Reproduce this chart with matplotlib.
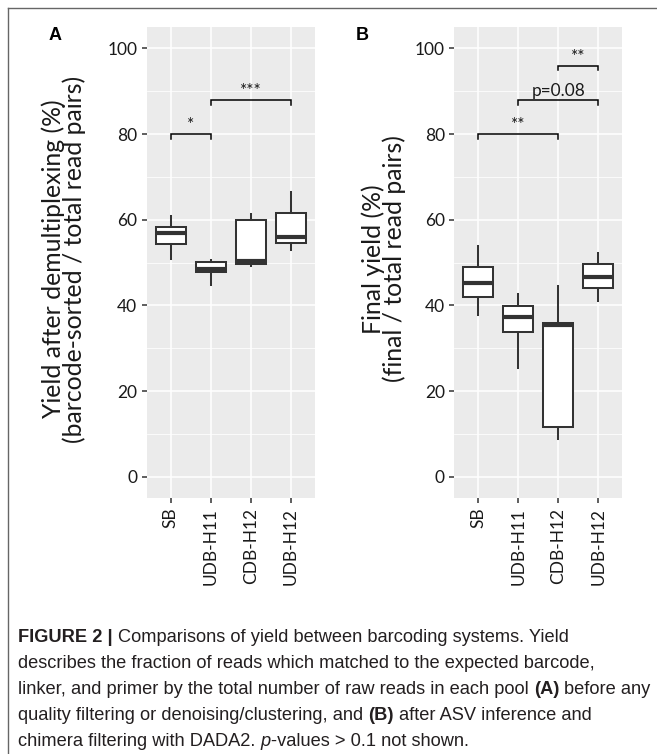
import matplotlib
matplotlib.use('Agg')
import matplotlib.pyplot as plt
from matplotlib.lines import Line2D
from matplotlib.transforms import IdentityTransform

groups = ['SB', 'UDB-H11', 'CDB-H12', 'UDB-H12']

# A: yield after demultiplexing (%)
demux_low = [50.8, 44.8, 49.3, 52.9]
demux_q1 = [54.4, 47.8, 49.7, 54.5]
demux_med = [57.0, 48.6, 50.4, 56.0]
demux_q3 = [58.4, 50.2, 60.0, 61.7]
demux_high = [60.9, 50.6, 61.4, 66.5]

# B: final yield (%)
final_low = [37.8, 25.5, 8.8, 41.1]
final_q1 = [41.9, 33.9, 11.7, 44.1]
final_med = [45.2, 37.2, 35.4, 46.7]
final_q3 = [49.0, 39.9, 35.8, 49.6]
final_high = [53.9, 42.7, 44.6, 52.3]

# significance brackets: (first group, second group, height, label)
demux_sig = [(0, 1, 80, '*'), (1, 3, 88, '***')]
final_sig = [(0, 2, 80, '**'), (1, 3, 88, 'p=0.08'), (2, 3, 96, '**')]

ylabels = [('Yield after demultiplexing (%)', '(barcode-sorted / total read pairs)'),
           ('Final yield (%)', '(final / total read pairs)')]

caption = [
    [('FIGURE 2 |', 'bold', 'normal'), ('Comparisons of yield between barcoding systems. Yield', 'normal', 'normal')],
    [('describes the fraction of reads which matched to the expected barcode,', 'normal', 'normal')],
    [('linker, and primer by the total number of raw reads in each pool', 'normal', 'normal'),
     ('(A)', 'bold', 'normal'), ('before any', 'normal', 'normal')],
    [('quality filtering or denoising/clustering, and', 'normal', 'normal'),
     ('(B)', 'bold', 'normal'), ('after ASV inference and', 'normal', 'normal')],
    [('chimera filtering with DADA2.', 'normal', 'normal'), ('p', 'normal', 'italic'),
     ('-values > 0.1 not shown.', 'normal', 'normal')],
]

W, H = 657, 754
fig = plt.figure(figsize=(W / 100, H / 100), dpi=100)
fig.patch.set_facecolor('white')
px = IdentityTransform()

dark = '#333333'
axfont = 'Lato'


def panel(left, low, q1, med, q3, high, sig):
    ax = fig.add_axes([left / W, 1 - 498.3 / H, 168 / W, 471.3 / H])
    stats = []
    for i in range(len(groups)):
        stats.append(dict(med=med[i], q1=q1[i], q3=q3[i], whislo=low[i], whishi=high[i]))
    ax.bxp(stats, positions=range(1, len(groups) + 1), widths=0.75,
           showfliers=False, showcaps=False, patch_artist=True,
           boxprops=dict(facecolor='white', edgecolor=dark, linewidth=1.45),
           medianprops=dict(color=dark, linewidth=3.0, solid_capstyle='butt'),
           whiskerprops=dict(color=dark, linewidth=1.45))
    ax.set_facecolor('#EBEBEB')
    for s in ax.spines.values():
        s.set_visible(False)
    ax.set_xlim(0.4, 4.6)
    ax.set_ylim(-5, 105)
    ax.set_yticks([0, 20, 40, 60, 80, 100])
    ax.set_yticks([10, 30, 50, 70, 90], minor=True)
    ax.set_xticks(range(1, len(groups) + 1))
    ax.set_xticklabels(groups, rotation=90, family=axfont)
    ax.set_yticklabels([str(v) for v in [0, 20, 40, 60, 80, 100]], family=axfont)
    ax.grid(which='major', color='white', lw=1.1)
    ax.grid(which='minor', axis='y', color='white', lw=0.55)
    ax.set_axisbelow(True)
    ax.tick_params(which='minor', length=0)
    ax.tick_params(which='major', length=3.8, width=1.1, color=dark,
                   labelsize=12.5, labelcolor='#1a1a1a', pad=3)
    for i, j, h, lab in sig:
        ax.plot([i + 1, i + 1, j + 1, j + 1], [h - 1.1, h, h, h - 1.1],
                color='black', lw=1.1, solid_joinstyle='miter')
        ax.text((i + j) / 2 + 1, h + 0.9, lab, ha='center', va='baseline',
                family=axfont, fontsize=12.4, color='#1a1a1a')
    return ax


axA = panel(146.7, demux_low, demux_q1, demux_med, demux_q3, demux_high, demux_sig)
axB = panel(454.3, final_low, final_q1, final_med, final_q3, final_high, final_sig)

# rotated two-line axis titles
for xc, (l1, l2) in zip([63.5, 384], ylabels):
    fig.text(xc, H - 259, l1 + '\n' + l2, transform=px, rotation=90,
             ha='center', va='center', multialignment='center', linespacing=0.86,
             family=axfont, fontsize=17.8, color='#1a1a1a')

# panel letters
fig.text(55, H - 36, 'A', transform=px, ha='center', va='center',
         family='Liberation Sans', weight='bold', fontsize=13)
fig.text(362, H - 36, 'B', transform=px, ha='center', va='center',
         family='Liberation Sans', weight='bold', fontsize=13)

# frame lines (top and left)
fig.add_artist(Line2D([8, W], [H - 8, H - 8], transform=px, color='#666666', lw=1.0))
fig.add_artist(Line2D([8, 8], [H - 8, 0], transform=px, color='#666666', lw=1.0))

# caption, drawn piece by piece so bold/italic parts can sit inline
fig.canvas.draw()
r = fig.canvas.get_renderer()
capsize = 13.15
capfont = 'Liberation Sans'


def width_of(s, **kw):
    t = fig.text(0, 0, s, transform=px, **kw)
    w = t.get_window_extent(r).width
    t.remove()
    return w


space = width_of('x x', family=capfont, fontsize=capsize) - width_of('xx', family=capfont, fontsize=capsize)
y0 = H - 642.5
for k, line in enumerate(caption):
    x = 18
    y = y0 - k * 25.8
    for n, (txt, wt, st) in enumerate(line):
        t = fig.text(x, y, txt, transform=px, ha='left', va='baseline',
                     family=capfont, fontsize=capsize, weight=wt, style=st, color='#231f20')
        x += t.get_window_extent(r).width
        if n + 1 < len(line) and not (txt == 'p' or line[n + 1][0].startswith('-')):
            x += space

fig.savefig('out.png', dpi=100)
